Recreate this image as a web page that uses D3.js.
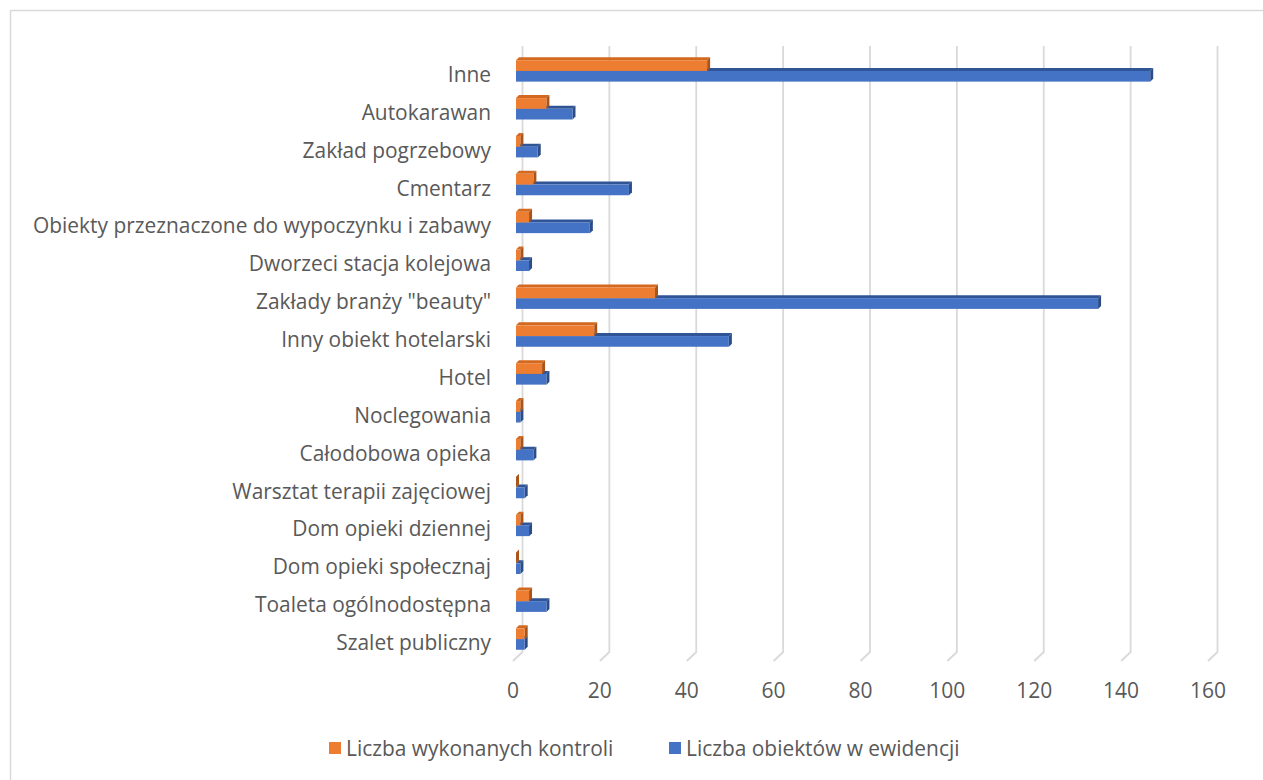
<!DOCTYPE html>
<html>
<head>
<meta charset="utf-8">
<script src="https://cdn.jsdelivr.net/npm/d3@7"></script>
<style>
  html, body { margin: 0; padding: 0; background: #ffffff; }
  svg { display: block; }
  text { font-family: "Open Sans", "Noto Sans", sans-serif; fill: #595959; }
</style>
</head>
<body>
<svg id="chart" width="1263" height="780"></svg>
<script>
const categories = [
  "Inne",
  "Autokarawan",
  "Zakład pogrzebowy",
  "Cmentarz",
  "Obiekty przeznaczone do wypoczynku i zabawy",
  "Dworzeci stacja kolejowa",
  "Zakłady branży \"beauty\"",
  "Inny obiekt hotelarski",
  "Hotel",
  "Noclegowania",
  "Całodobowa opieka",
  "Warsztat terapii zajęciowej",
  "Dom opieki dziennej",
  "Dom opieki społecznaj",
  "Toaleta ogólnodostępna",
  "Szalet publiczny"
];
const kontrole = [44, 7, 1, 4, 3, 1, 32, 18, 6, 1, 1, 0, 1, 0, 3, 2];
const obiekty  = [146, 13, 5, 26, 17, 3, 134, 49, 7, 1, 4, 2, 3, 1, 7, 2];
const seriesNames = ["Liczba wykonanych kontroli", "Liczba obiektów w ewidencji"];
const tickValues = [0, 20, 40, 60, 80, 100, 120, 140, 160];

const colors = {
  orange: { front: "#ED7D31", top: "#D2691F", side: "#A9541A" },
  blue:   { front: "#4472C4", top: "#2F5597", side: "#2B4C85" }
};

const svg = d3.select("#chart");

// outer chart border
svg.append("rect")
  .attr("x", 10.5).attr("y", 10.5)
  .attr("width", 1300).attr("height", 800)
  .attr("fill", "none").attr("stroke", "#d9d9d9").attr("stroke-width", 1.5);

const x = d3.scaleLinear().domain([0, 160]).range([513, 1208]);
const y = d3.scaleBand().domain(categories).range([55, 661]);

const wallDx = 9.5, wallDy = -9;   // back wall offset (3D depth)
const barDx = 3, barDy = -3;       // bar position in depth
const d = 3;                       // bar thickness in depth
const barH = 10.7;

// gridlines: back wall vertical + floor diagonal
const grid = svg.append("g");
tickValues.forEach(v => {
  const xf = x(v), xb = xf + wallDx;
  grid.append("path")
    .attr("d", `M${xb},${y.range()[0] + wallDy} L${xb},${y.range()[1] + wallDy} L${xf},${y.range()[1]}`)
    .attr("fill", "none").attr("stroke", "#d9d9d9").attr("stroke-width", 1.8);
});

// tick labels
svg.append("g").selectAll("text").data(tickValues).join("text")
  .attr("x", v => x(v)).attr("y", 690)
  .attr("text-anchor", "middle").attr("dominant-baseline", "central")
  .style("font-size", "21px")
  .text(v => v);

// category labels
svg.append("g").selectAll("text").data(categories).join("text")
  .attr("x", 491).attr("y", c => y(c) + y.bandwidth() / 2)
  .attr("text-anchor", "end").attr("dominant-baseline", "central")
  .style("font-size", "20.9px")
  .text(c => c);

function bar3d(g, x0, x1, yTop, h, col) {
  // top face
  g.append("path")
    .attr("d", `M${x0},${yTop} L${x1},${yTop} L${x1 + d},${yTop - d} L${x0 + d},${yTop - d} Z`)
    .attr("fill", col.top);
  // side face
  g.append("path")
    .attr("d", `M${x1},${yTop} L${x1 + d},${yTop - d} L${x1 + d},${yTop + h - d} L${x1},${yTop + h} Z`)
    .attr("fill", col.side);
  // front face
  g.append("rect")
    .attr("x", x0).attr("y", yTop).attr("width", Math.max(0, x1 - x0)).attr("height", h)
    .attr("fill", col.front);
}

const bars = svg.append("g");
categories.forEach((c, i) => {
  const yc = y(c) + y.bandwidth() / 2 + barDy;
  const x0 = x(0) + barDx;
  const g = bars.append("g");
  bar3d(g, x0, x(obiekty[i]) + barDx, yc, barH, colors.blue);
  bar3d(g, x0, x(kontrole[i]) + barDx, yc - barH, barH, colors.orange);
});

// legend
const legend = svg.append("g");
const legendItems = [
  { name: seriesNames[0], color: colors.orange.front, x: 329 },
  { name: seriesNames[1], color: colors.blue.front, x: 669 }
];
legendItems.forEach(it => {
  legend.append("rect").attr("x", it.x).attr("y", 742).attr("width", 12).attr("height", 12).attr("fill", it.color);
  legend.append("text").attr("x", it.x + 17).attr("y", 748)
    .attr("dominant-baseline", "central")
    .style("font-size", "20.9px")
    .text(it.name);
});
</script>
</body>
</html>
